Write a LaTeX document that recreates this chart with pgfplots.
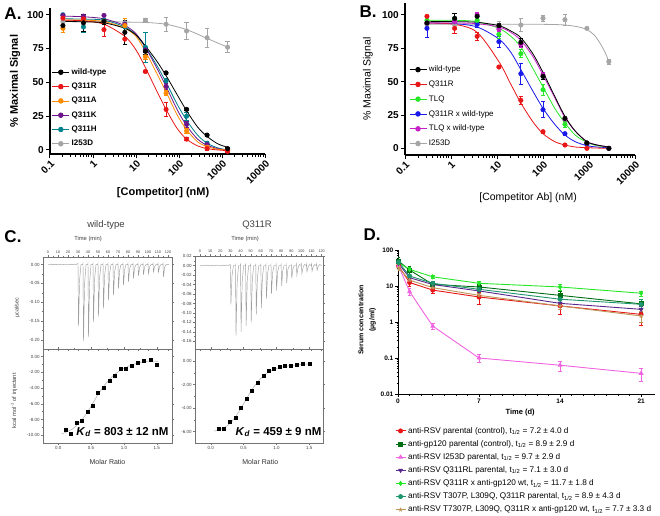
\documentclass[border=0pt]{standalone}
\usepackage{fontspec}
\setmainfont{Liberation Sans}
\usepackage{pgfplots}
\pgfplotsset{compat=1.18}

\definecolor{cBlk}{RGB}{0,0,0}
\definecolor{cRed}{RGB}{232,22,22}
\definecolor{cOra}{RGB}{255,140,0}
\definecolor{cPur}{RGB}{110,20,140}
\definecolor{cTea}{RGB}{0,130,140}
\definecolor{cGry}{RGB}{165,165,165}
\definecolor{cGrn}{RGB}{40,230,40}
\definecolor{cBlu}{RGB}{25,25,235}
\definecolor{cMag}{RGB}{200,30,200}
\definecolor{dGrn}{RGB}{0,110,20}
\definecolor{dPnk}{RGB}{240,100,225}
\definecolor{dPur}{RGB}{90,40,140}
\definecolor{dTea}{RGB}{30,150,110}
\definecolor{dTan}{RGB}{190,150,90}

\pgfplotsset{
  fitline/.style={line width=0.8pt, smooth, no marks, forget plot},
  ptsmark/.style={only marks, mark=*, mark size=2.3pt, forget plot,
    error bars/.cd, y dir=both, y explicit, error bar style={line width=0.8pt},
    error mark options={rotate=90, mark size=2.2pt, line width=0.8pt}},
  dpk/.style={line width=0.9pt, mark size=2pt,
    error bars/.cd, y dir=both, y explicit, error bar style={line width=0.7pt},
    error mark options={rotate=90, mark size=1.8pt, line width=0.7pt}},
}

\begin{document}
\begin{tikzpicture}
\path[use as bounding box] (0,0) rectangle (660pt,515pt);

% ---------------- A ----------------
\begin{axis}[at={(50pt,361pt)}, anchor=south west, scale only axis, width=215pt, height=146pt,
  xmode=log, xmin=0.1, xmax=10000, ymin=-3, ymax=105,
  axis x line*=bottom, axis y line*=left, axis line style={line width=1.2pt},
  tick align=outside, major tick length=4pt, minor tick length=2.5pt,
  tick style={line width=1pt, black},
  xtick={0.1,1,10,100,1000,10000}, xticklabels={0.1,1,10,100,1000,10000},
  minor xtick={0.2,0.3,0.4,0.5,0.6,0.7,0.8,0.9,2,3,4,5,6,7,8,9,20,30,40,50,60,70,80,90,200,300,400,500,600,700,800,900,2000,3000,4000,5000,6000,7000,8000,9000},
  ytick={0,25,50,75,100}, yticklabels={0,25,50,75,100},
  xticklabel style={rotate=45, anchor=north east, inner sep=1pt, font=\bfseries\fontsize{10}{12}\selectfont},
  yticklabel style={font=\bfseries\fontsize{10}{12}\selectfont, inner sep=2pt},
  xlabel={\bfseries [Competitor] (nM)}, ylabel={\bfseries \% Maximal Signal},
  xlabel style={at={(axis description cs:0.526,-0.267)}, anchor=center, font=\fontsize{11}{13}\selectfont},
  ylabel style={at={(axis description cs:-0.163,0.5)}, anchor=center, font=\fontsize{11}{13}\selectfont},
  legend cell align=left,
  legend image code/.code={\draw[mark repeat=2,mark phase=2] plot coordinates {(0pt,0pt)(8.5pt,0pt)(17pt,0pt)};},
  legend style={at={(0.008,0.6)}, anchor=north west, draw=none, fill=none,
    font=\bfseries\fontsize{8}{9}\selectfont, row sep=3.2pt, inner sep=0pt}]
\addplot[cGry, fitline] coordinates {(0.2,95)(1.8,95)(5.5,94.6)(16.5,94.3)(50,93)(150,89)(450,82.5)(1350,76)};
\addplot[cGry, ptsmark] coordinates {(0.2,95) +- (0,1) (0.6,95) +- (0,1) (1.8,95) +- (0,1) (5.5,94) +- (0,1) (16.5,96) +- (0,1) (50,93) +- (0,5) (150,88) +- (0,6) (450,83) +- (0,7) (1350,76) +- (0,4)};
\addplot[cTea, fitline] coordinates {(0.2,97)(0.6,96.8)(1.8,96)(5.5,91)(10,85)(16.5,76)(30,63)(50,50)(90,34)(150,22)(270,11)(450,5)(800,1.5)(1350,0)};
\addplot[cTea, ptsmark] coordinates {(0.2,100) +- (0,1) (0.6,91) +- (0,4) (1.8,96) +- (0,1) (5.5,91) +- (0,3) (16.5,76) +- (0,11) (50,51) +- (0,2) (150,25) +- (0,3) (450,5) +- (0,1) (1350,0) +- (0,1)};
\addplot[cPur, fitline] coordinates {(0.2,99)(0.6,98.5)(1.8,97)(5.5,92)(10,86)(16.5,76)(30,61)(50,47)(90,30)(150,18)(270,8)(450,3.5)(800,1)(1350,0)};
\addplot[cPur, ptsmark] coordinates {(0.2,99.5) +- (0,1) (0.6,99) +- (0,1) (1.8,99.5) +- (0,1) (5.5,93) +- (0,2) (16.5,74) +- (0,2) (50,47) +- (0,2) (150,19) +- (0,2) (450,4) +- (0,1) (1350,0) +- (0,1)};
\addplot[cOra, fitline] coordinates {(0.2,96)(0.6,96)(1.8,95)(5.5,90)(10,84)(16.5,73)(30,57)(50,43)(90,26)(150,15)(270,6)(450,2.5)(800,0.5)(1350,0)};
\addplot[cOra, ptsmark] coordinates {(0.2,90) +- (0,3) (0.6,96) +- (0,2) (1.8,95) +- (0,2) (5.5,92) +- (0,5) (16.5,69) +- (0,2) (50,42) +- (0,2) (150,14) +- (0,2) (450,2) +- (0,1) (1350,0) +- (0,1)};
\addplot[cRed, fitline] coordinates {(0.2,96)(0.6,95.5)(1.8,93)(5.5,84)(10,74)(16.5,61)(30,44)(50,30)(90,16)(150,8)(270,3)(450,1)(800,0)(1350,-0.5)};
\addplot[cRed, ptsmark] coordinates {(0.2,97.5) +- (0,1) (0.6,97) +- (0,1) (1.8,89) +- (0,5) (5.5,82) +- (0,4) (16.5,58) +- (0,1) (50,30) +- (0,5) (150,8) +- (0,1) (450,1) +- (0,1) (1350,-1) +- (0,1)};
\addplot[cBlk, fitline] coordinates {(0.2,95)(0.6,94.8)(1.8,94)(5.5,90)(10,85)(16.5,77)(30,66)(50,55)(90,41)(150,29)(270,17)(450,10)(800,4.5)(1350,2)};
\addplot[cBlk, ptsmark] coordinates {(0.2,92) +- (0,3) (0.6,94) +- (0,6) (1.8,95) +- (0,2) (5.5,87) +- (0,9) (16.5,73) +- (0,2) (50,57) +- (0,1) (150,30) +- (0,1) (450,11) +- (0,1) (1350,1) +- (0,1)};
\addlegendimage{cBlk, mark=*, mark size=2.3pt, line width=0.8pt}\addlegendentry{wild-type}
\addlegendimage{cRed, mark=*, mark size=2.3pt, line width=0.8pt}\addlegendentry{Q311R}
\addlegendimage{cOra, mark=*, mark size=2.3pt, line width=0.8pt}\addlegendentry{Q311A}
\addlegendimage{cPur, mark=*, mark size=2.3pt, line width=0.8pt}\addlegendentry{Q311K}
\addlegendimage{cTea, mark=*, mark size=2.3pt, line width=0.8pt}\addlegendentry{Q311H}
\addlegendimage{cGry, mark=*, mark size=2.3pt, line width=0.8pt}\addlegendentry{I253D}
\end{axis}

% ---------------- B ----------------
\begin{axis}[at={(405pt,360pt)}, anchor=south west, scale only axis, width=230pt, height=152pt,
  xmode=log, xmin=0.1, xmax=10000, ymin=-5, ymax=109,
  axis x line*=bottom, axis y line*=left, axis line style={line width=1.2pt},
  tick align=outside, major tick length=4pt, minor tick length=2.5pt,
  tick style={line width=1pt, black},
  xtick={0.1,1,10,100,1000,10000}, xticklabels={0.1,1,10,100,1000,10000},
  minor xtick={0.2,0.3,0.4,0.5,0.6,0.7,0.8,0.9,2,3,4,5,6,7,8,9,20,30,40,50,60,70,80,90,200,300,400,500,600,700,800,900,2000,3000,4000,5000,6000,7000,8000,9000},
  ytick={0,25,50,75,100}, yticklabels={0,25,50,75,100},
  xticklabel style={rotate=45, anchor=north east, inner sep=1pt, font=\bfseries\fontsize{10}{12}\selectfont},
  yticklabel style={font=\bfseries\fontsize{10}{12}\selectfont, inner sep=2pt},
  xlabel={[Competitor Ab] (nM)}, ylabel={\% Maximal Signal},
  xlabel style={at={(axis description cs:0.535,-0.283)}, anchor=center, font=\fontsize{10.5}{12}\selectfont},
  ylabel style={at={(axis description cs:-0.161,0.5)}, anchor=center, font=\fontsize{10.5}{12}\selectfont},
  legend cell align=left,
  legend image code/.code={\draw[mark repeat=2,mark phase=2] plot coordinates {(0pt,0pt)(8.5pt,0pt)(17pt,0pt)};},
  legend style={at={(0.017,0.6)}, anchor=north west, draw=none, fill=none,
    font=\fontsize{8}{9}\selectfont, row sep=3.6pt, inner sep=0pt}]
\addplot[cGry, fitline] coordinates {(0.3,93)(11,93)(100,93)(300,92.5)(600,91)(900,89)(1300,85)(1800,78)(2300,71)(2700,65)};
\addplot[cGry, ptsmark] coordinates {(0.3,93) +- (0,1) (1.2,93) +- (0,1) (3.7,93) +- (0,1) (11,92) +- (0,3) (33,92.5) +- (0,5) (100,97.5) +- (0,2) (300,96.5) +- (0,4) (900,90) +- (0,1) (2700,65) +- (0,2)};
\addplot[cBlu, fitline] coordinates {(0.3,94)(1.2,93.5)(3.7,91)(11,82)(20,72)(33,59)(60,43)(100,30)(180,18)(300,10)(500,5)(900,2)(1500,1)(2700,0.5)};
\addplot[cBlu, ptsmark] coordinates {(0.3,90) +- (0,7) (1.2,95) +- (0,2) (3.7,93) +- (0,2) (11,80) +- (0,4) (33,56) +- (0,8) (100,29) +- (0,6) (300,11) +- (0,1) (900,3) +- (0,1) (2700,0) +- (0,1)};
\addplot[cGrn, fitline] coordinates {(0.3,96)(1.2,96)(3.7,95)(11,90)(20,84)(33,76)(60,60)(100,46)(180,30)(300,19)(500,10)(900,4.5)(1500,2)(2700,1)};
\addplot[cGrn, ptsmark] coordinates {(0.3,96) +- (0,2) (1.2,97) +- (0,4) (3.7,96) +- (0,2) (11,85.5) +- (0,3) (33,71) +- (0,3) (100,44) +- (0,4) (300,18) +- (0,2) (900,4) +- (0,1) (2700,0) +- (0,1)};
\addplot[cRed, fitline] coordinates {(0.3,94)(1.2,93)(3.7,87)(11,65)(20,48)(33,34)(60,20)(100,11)(180,5)(300,2.5)(500,1)(900,0.5)(1500,0.2)(2700,0)};
\addplot[cRed, ptsmark] coordinates {(0.3,99) +- (0,1) (1.2,90) +- (0,4) (3.7,84) +- (0,3) (11,61) +- (0,1) (33,36) +- (0,3) (100,12.5) +- (0,1) (300,2.5) +- (0,1) (900,0) +- (0,1)};
\addplot[cMag, fitline] coordinates {(0.3,94)(1.2,94)(3.7,93.5)(11,91)(20,87)(33,81)(60,69)(100,55)(180,38)(300,23)(500,13)(900,5)(1500,2.5)(2700,1)};
\addplot[cMag, ptsmark] coordinates {(0.3,94) +- (0,2) (1.2,95) +- (0,2) (3.7,100) +- (0,2) (11,89.5) +- (0,2) (33,78) +- (0,2) (100,55) +- (0,2) (300,22) +- (0,1) (900,4) +- (0,1) (2700,0) +- (0,1)};
\addplot[cBlk, fitline] coordinates {(0.3,95)(1.2,95)(3.7,94.5)(11,92)(20,88)(33,83)(60,71)(100,57)(180,39)(300,24)(500,13)(900,5)(1500,2.5)(2700,1)};
\addplot[cBlk, ptsmark] coordinates {(0.3,94) +- (0,2) (1.2,97.5) +- (0,4) (3.7,99) +- (0,2) (11,92) +- (0,2) (33,79.5) +- (0,3) (100,54) +- (0,2) (300,22.5) +- (0,1) (900,4) +- (0,1) (2700,0) +- (0,1)};
\addlegendimage{cBlk, mark=*, mark size=2.3pt, line width=0.8pt}\addlegendentry{wild-type}
\addlegendimage{cRed, mark=*, mark size=2.3pt, line width=0.8pt}\addlegendentry{Q311R}
\addlegendimage{cGrn, mark=*, mark size=2.3pt, line width=0.8pt}\addlegendentry{TLQ}
\addlegendimage{cBlu, mark=*, mark size=2.3pt, line width=0.8pt}\addlegendentry{Q311R x wild-type}
\addlegendimage{cMag, mark=*, mark size=2.3pt, line width=0.8pt}\addlegendentry{TLQ x wild-type}
\addlegendimage{cGry, mark=*, mark size=2.3pt, line width=0.8pt}\addlegendentry{I253D}
\end{axis}

% ---------------- C, wild-type thermogram ----------------
\begin{axis}[at={(43pt,166pt)}, anchor=south west, scale only axis, width=129pt, height=92pt,
  xmin=-5, xmax=124, ymin=-0.224, ymax=0.02,
  axis line style={black!55, line width=0.5pt}, tick style={black!55, line width=0.4pt},
  tick align=outside, major tick length=2pt, minor tick length=1.2pt,
  ticklabel style={font=\fontsize{4.5}{5}\selectfont, text=black!75, inner sep=1.2pt},
  xticklabel pos=upper, xtick={0,10,20,30,40,50,60,70,80,90,100,110,120},
  xticklabels={0,10,20,30,40,50,60,70,80,90,100,110,120}, minor x tick num=1,
  xticklabel style={font=\fontsize{3.8}{4.5}\selectfont, inner sep=1pt},
  ytick={-0.20,-0.15,-0.10,-0.05,0}, yticklabels={-0.20,-0.15,-0.10,-0.05,0.00}, minor y tick num=1,
  ylabel={µcal/sec}, ylabel style={at={(axis description cs:-0.2,0.45)}, anchor=center, font=\fontsize{5.5}{6}\selectfont, text=black!75}]
\addplot[gray!75, line width=0.45pt] coordinates {
(0,0) (2,-0.001) (4,0.001) (6,-0.0005) (8,0.001) (10,-0.001) (12,0.0005) (14,-0.001) (16,0.001) (18,0) (20,-0.001) (22,0.001) (24,-0.0005) (26,0.001) (28,0)
(30,0.003) (30.5,-0.164) (31.6,-0.041) (33,0) (34.7,0)
(35,0.003) (35.5,-0.204) (36.6,-0.051) (38,0) (39.7,0)
(40,0.003) (40.5,-0.193) (41.6,-0.048) (43,0) (44.7,0)
(45,0.003) (45.5,-0.153) (46.6,-0.038) (48,0) (49.7,0)
(50,0.003) (50.5,-0.138) (51.6,-0.035) (53,0) (54.7,0)
(55,0.003) (55.5,-0.117) (56.6,-0.029) (58,0) (59.7,0)
(60,0.003) (60.5,-0.095) (61.6,-0.024) (63,0) (64.7,0)
(65,0.003) (65.5,-0.082) (66.6,-0.021) (68,0) (69.7,0)
(70,0.003) (70.5,-0.064) (71.6,-0.016) (73,0) (74.7,0)
(75,0.003) (75.5,-0.055) (76.6,-0.014) (78,0) (79.7,0)
(80,0.003) (80.5,-0.046) (81.6,-0.012) (83,0) (84.7,0)
(85,0.003) (85.5,-0.037) (86.6,-0.009) (88,0) (89.7,0)
(90,0.003) (90.5,-0.030) (91.6,-0.008) (93,0) (94.7,0)
(95,0.003) (95.5,-0.027) (96.6,-0.007) (98,0) (99.7,0)
(100,0.003) (100.5,-0.024) (101.6,-0.006) (103,0) (104.7,0)
(105,0.003) (105.5,-0.020) (106.6,-0.005) (108,0) (109.7,0)
(110,0.003) (110.5,-0.021) (111.6,-0.005) (113,0) (114.7,0)
(115,0.003) (115.5,-0.033) (116.6,-0.008) (118,0) (121,0)};
\end{axis}

% ---------------- C, wild-type isotherm ----------------
\begin{axis}[at={(43pt,72pt)}, anchor=south west, scale only axis, width=129pt, height=94pt,
  xmin=-0.233, xmax=1.733, ymin=-11, ymax=0.98,
  axis line style={black!55, line width=0.5pt}, tick style={black!55, line width=0.4pt},
  tick align=outside, major tick length=2pt, minor tick length=1.2pt,
  ticklabel style={font=\fontsize{4.5}{5}\selectfont, text=black!75, inner sep=1.2pt},
  xtick={0,0.5,1,1.5}, xticklabels={0.0,0.5,1.0,1.5}, minor x tick num=1,
  ytick={-10,-8,-6,-4,-2,0}, yticklabels={-10.00,-8.00,-6.00,-4.00,-2.00,0.00}, minor y tick num=1,
  xlabel={Molar Ratio}, xlabel style={at={(axis description cs:0.5,-0.199)}, anchor=center, font=\fontsize{7}{8}\selectfont, text=black!80},
  ylabel={kcal mol\textsuperscript{-1} of injectant}, ylabel style={at={(axis description cs:-0.225,0.45)}, anchor=center, font=\fontsize{5.8}{6.5}\selectfont, text=black!75}]
\addplot[gray!70, line width=0.45pt, smooth] coordinates {(0.05,-9.85)(0.2,-9.3)(0.3,-8.6)(0.4,-7.6)(0.5,-6.3)(0.6,-4.9)(0.7,-3.7)(0.8,-2.7)(0.9,-2.0)(1.0,-1.5)(1.1,-1.1)(1.2,-0.85)(1.3,-0.65)(1.4,-0.55)(1.52,-0.6)};
\addplot[black, only marks, mark=square*, mark size=1.5pt] coordinates {(0.113,-9.36)(0.189,-9.8)(0.276,-8.4)(0.358,-8.1)(0.445,-7.0)(0.522,-6.2)(0.604,-4.55)(0.691,-3.96)(0.778,-3.06)(0.860,-2.47)(0.947,-1.57)(1.034,-1.57)(1.126,-1.15)(1.213,-0.8)(1.295,-0.55)(1.408,-0.43)(1.50,-0.98)};
\end{axis}

% ---------------- C, Q311R thermogram ----------------
\begin{axis}[at={(195pt,166pt)}, anchor=south west, scale only axis, width=128pt, height=93pt,
  xmin=-4.93, xmax=121.3, ymin=-0.176, ymax=0.02,
  axis line style={black!55, line width=0.5pt}, tick style={black!55, line width=0.4pt},
  tick align=outside, major tick length=2pt, minor tick length=1.2pt,
  ticklabel style={font=\fontsize{4.5}{5}\selectfont, text=black!75, inner sep=1.2pt},
  xticklabel pos=upper, xtick={0,10,20,30,40,50,60,70,80,90,100,110,120},
  xticklabels={0,10,20,30,40,50,60,70,80,90,100,110,120}, minor x tick num=1,
  xticklabel style={font=\fontsize{3.8}{4.5}\selectfont, inner sep=1pt},
  ytick={-0.16,-0.14,-0.12,-0.10,-0.08,-0.06,-0.04,-0.02,0,0.02},
  yticklabels={-0.16,-0.14,-0.12,-0.10,-0.08,-0.06,-0.04,-0.02,0.00,0.02}, minor y tick num=1]
\addplot[gray!75, line width=0.45pt] coordinates {
(0,0) (2,-0.001) (4,0.001) (6,-0.0005) (8,0.001) (10,-0.001) (12,0.0005) (14,-0.001) (16,0.001) (18,0) (20,-0.001) (22,0.001) (24,-0.0005) (26,0.001) (28,0)
(30,0.002) (30.5,-0.082) (31.6,-0.021) (33,0) (34.7,0)
(35,0.002) (35.5,-0.148) (36.6,-0.037) (38,0) (39.7,0)
(40,0.002) (40.5,-0.140) (41.6,-0.035) (43,0) (44.7,0)
(45,0.002) (45.5,-0.127) (46.6,-0.032) (48,0) (49.7,0)
(50,0.002) (50.5,-0.120) (51.6,-0.030) (53,0) (54.7,0)
(55,0.002) (55.5,-0.103) (56.6,-0.026) (58,0) (59.7,0)
(60,0.002) (60.5,-0.090) (61.6,-0.023) (63,0) (64.7,0)
(65,0.002) (65.5,-0.070) (66.6,-0.018) (68,0) (69.7,0)
(70,0.002) (70.5,-0.060) (71.6,-0.015) (73,0) (74.7,0)
(75,0.002) (75.5,-0.053) (76.6,-0.013) (78,0) (79.7,0)
(80,0.002) (80.5,-0.043) (81.6,-0.011) (83,0) (84.7,0)
(85,0.002) (85.5,-0.037) (86.6,-0.009) (88,0) (89.7,0)
(90,0.002) (90.5,-0.027) (91.6,-0.007) (93,0) (94.7,0)
(95,0.003) (95.5,-0.020) (96.6,-0.005) (98,0.002) (99.7,0)
(100,0.003) (100.5,-0.017) (101.6,-0.004) (103,0.002) (104.7,0)
(105,0.003) (105.5,-0.013) (106.6,-0.003) (108,0.002) (109.7,0)
(110,0.003) (110.5,-0.012) (111.6,-0.003) (113,0.002) (114.7,0)
(115,0.003) (115.5,-0.010) (116.6,-0.002) (118,0.002) (120,0)};
\end{axis}

% ---------------- C, Q311R isotherm ----------------
\begin{axis}[at={(195pt,72pt)}, anchor=south west, scale only axis, width=128pt, height=94pt,
  xmin=-0.24, xmax=1.71, ymin=-6.96, ymax=1.02,
  axis line style={black!55, line width=0.5pt}, tick style={black!55, line width=0.4pt},
  tick align=outside, major tick length=2pt, minor tick length=1.2pt,
  ticklabel style={font=\fontsize{4.5}{5}\selectfont, text=black!75, inner sep=1.2pt},
  xtick={0,0.5,1,1.5}, xticklabels={0.0,0.5,1.0,1.5}, minor x tick num=1,
  ytick={-6,-4,-2,0}, yticklabels={-6.00,-4.00,-2.00,0.00}, minor y tick num=1,
  xlabel={Molar Ratio}, xlabel style={at={(axis description cs:0.51,-0.199)}, anchor=center, font=\fontsize{7}{8}\selectfont, text=black!80}]
\addplot[gray!70, line width=0.45pt, smooth] coordinates {(0.05,-5.95)(0.15,-5.8)(0.25,-5.5)(0.35,-4.95)(0.45,-4.1)(0.55,-3.15)(0.65,-2.25)(0.75,-1.55)(0.85,-1.05)(0.95,-0.75)(1.05,-0.55)(1.2,-0.4)(1.35,-0.3)(1.5,-0.25)};
\addplot[black, only marks, mark=square*, mark size=1.5pt] coordinates {(0.127,-5.77)(0.203,-5.72)(0.294,-5.18)(0.375,-4.81)(0.461,-3.96)(0.547,-3.23)(0.628,-2.55)(0.715,-1.81)(0.80,-1.27)(0.877,-0.85)(0.963,-0.68)(1.044,-0.51)(1.13,-0.42)(1.216,-0.37)(1.31,-0.34)(1.40,-0.23)(1.50,-0.23)};
\end{axis}

% ---------------- D ----------------
\begin{axis}[at={(398pt,121pt)}, anchor=south west, scale only axis, width=257pt, height=144pt,
  ymode=log, ymin=0.01, ymax=100, xmin=0, xmax=22.2,
  axis x line*=bottom, axis y line*=left, axis line style={line width=1pt},
  tick align=outside, tick style={line width=0.7pt, black},
  major tick length=3pt, minor tick length=1.5pt,
  xtick={0,7,14,21}, xticklabels={0,7,14,21}, minor x tick num=6,
  ytick={0.01,0.1,1,10,100}, yticklabels={0.01,0.1,1,10,100},
  minor ytick={0.02,0.03,0.04,0.05,0.06,0.07,0.08,0.09,0.2,0.3,0.4,0.5,0.6,0.7,0.8,0.9,2,3,4,5,6,7,8,9,20,30,40,50,60,70,80,90},
  ticklabel style={font=\bfseries\fontsize{6.5}{7}\selectfont, inner sep=1.5pt},
  xlabel={\bfseries Time (d)}, xlabel style={at={(axis description cs:0.475,-0.132)}, anchor=center, font=\fontsize{7.5}{8}\selectfont},
  ylabel={\bfseries Serum concentration\\\bfseries (µg/ml)}, ylabel style={at={(axis description cs:-0.12,0.514)}, anchor=center, align=center, font=\fontsize{7}{11}\selectfont},
  legend cell align=left,
  legend image code/.code={\draw[mark repeat=2,mark phase=2] plot coordinates {(0pt,0pt)(5pt,0pt)(10pt,0pt)};},
  legend style={at={(-0.012,-0.215)}, anchor=north west, draw=none, fill=none,
    font=\fontsize{8.2}{9}\selectfont, row sep=1.7pt, inner sep=0pt}]
\addplot[cRed, mark=*, dpk] coordinates {(0.05,36) +- (0,5) (1,12.5) +- (0,3) (3,7.7) +- (0,1.5) (7,4.95) +- (0,1.8) (14,2.8) +- (0,1.2) (21,1.63) +- (0,0.8)};
\addlegendentry{anti-RSV parental (control), t\textsubscript{1/2} = 7.2 ± 4.0 d}
\addplot[dGrn, mark=square*, dpk] coordinates {(0.05,49) +- (0,15) (1,27.8) +- (0,8) (3,11.1) +- (0,2) (7,9.4) +- (0,2) (14,5.5) +- (0,1.5) (21,3.2) +- (0,1)};
\addlegendentry{anti-gp120 parental (control), t\textsubscript{1/2} = 8.9 ± 2.9 d}
\addplot[dPnk, mark=triangle*, dpk] coordinates {(0.05,36) +- (0,5) (1,7.0) +- (0,1.5) (3,0.77) +- (0,0.15) (7,0.10) +- (0,0.025) (14,0.063) +- (0,0.02) (21,0.0375) +- (0,0.015)};
\addlegendentry{anti-RSV I253D parental, t\textsubscript{1/2} = 9.7 ± 2.9 d}
\addplot[dPur, mark=triangle*, mark options={rotate=180}, dpk] coordinates {(0.05,42) +- (0,6) (1,17) +- (0,2) (3,11) +- (0,1.5) (7,7.3) +- (0,1) (14,3.3) +- (0,0.6) (21,2.25) +- (0,0.4)};
\addlegendentry{anti-RSV Q311RL parental, t\textsubscript{1/2} = 7.1 ± 3.0 d}
\addplot[cGrn, mark=diamond*, dpk] coordinates {(0.05,44) +- (0,10) (1,29) +- (0,3) (3,18) +- (0,2) (7,11.9) +- (0,2) (14,9.4) +- (0,2) (21,6.3) +- (0,1)};
\addlegendentry{anti-RSV Q311R x anti-gp120 wt, t\textsubscript{1/2} = 11.7 ± 1.8 d}
\addplot[dTea, mark=*, dpk] coordinates {(0.05,46) +- (0,8) (1,19) +- (0,2) (3,11.9) +- (0,1.5) (7,8.1) +- (0,1.2) (14,4.3) +- (0,0.8) (21,3.1) +- (0,1.2)};
\addlegendentry{anti-RSV T307P, L309Q, Q311R parental, t\textsubscript{1/2} = 8.9 ± 4.3 d}
\addplot[dTan, mark=star, dpk] coordinates {(0.05,32) +- (0,4) (1,14.6) +- (0,2) (3,9) +- (0,1) (7,5.5) +- (0,0.8) (14,2.8) +- (0,0.5) (21,1.47) +- (0,0.5)};
\addlegendentry{anti-RSV T7307P, L309Q, Q311R x anti-gp120 wt, t\textsubscript{1/2} = 7.7 ± 3.3 d}
\end{axis}

% ---------------- labels ----------------
\node[font=\bfseries\fontsize{17}{17}\selectfont] at (13pt,501pt) {A.};
\node[font=\bfseries\fontsize{17}{17}\selectfont] at (368pt,503pt) {B.};
\node[font=\bfseries\fontsize{17}{17}\selectfont] at (13pt,278pt) {C.};
\node[font=\bfseries\fontsize{17}{17}\selectfont] at (372pt,280pt) {D.};
\node[font=\fontsize{9.5}{10}\selectfont, text=black!75] at (106pt,290pt) {wild-type};
\node[font=\fontsize{9.5}{10}\selectfont, text=black!75] at (257pt,290pt) {Q311R};
\node[font=\fontsize{5.8}{6}\selectfont, text=black!75] at (88pt,276pt) {Time (min)};
\node[font=\fontsize{5.8}{6}\selectfont, text=black!75] at (245pt,276pt) {Time (min)};
\node[font=\bfseries\fontsize{11.5}{12}\selectfont] at (122.5pt,83pt) {\textit{K}\textsubscript{\textit{d}} = 803 ± 12 nM};
\node[font=\bfseries\fontsize{11.5}{12}\selectfont] at (278.5pt,83pt) {\textit{K}\textsubscript{\textit{d}} = 459 ± 9 nM};
\end{tikzpicture}
\end{document}
